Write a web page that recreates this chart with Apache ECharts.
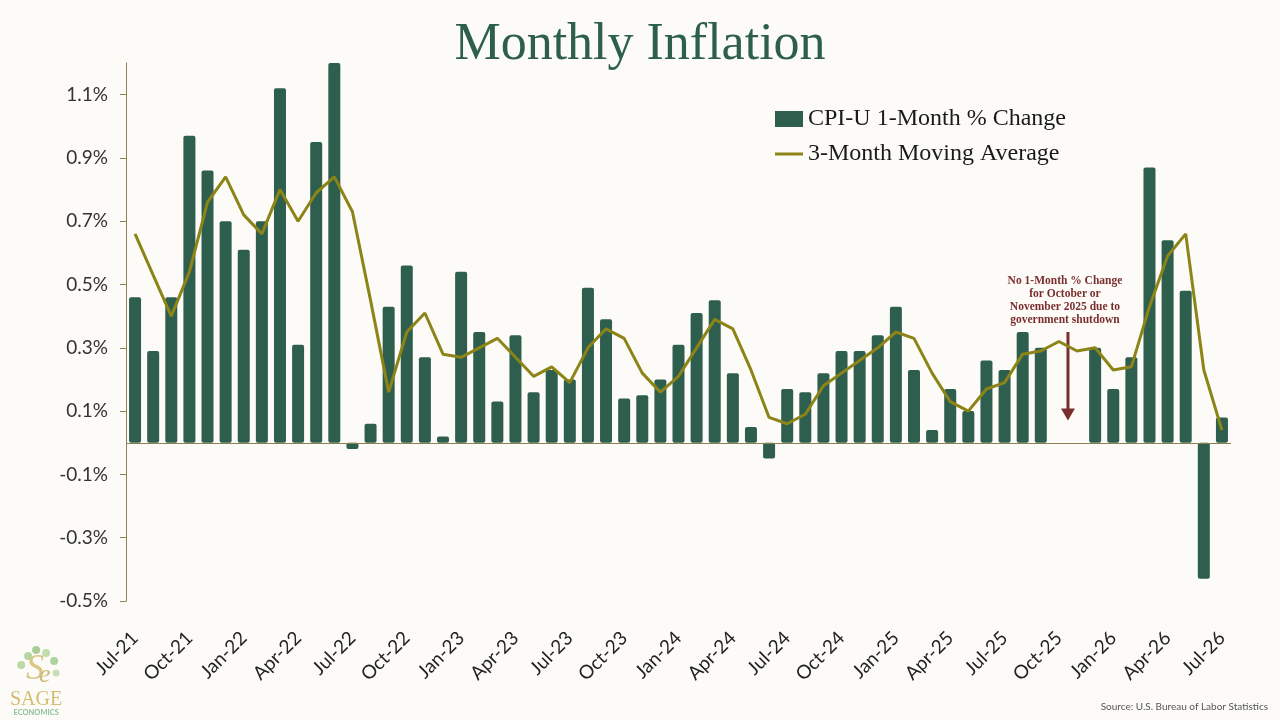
<!DOCTYPE html>
<html>
<head>
<meta charset="utf-8">
<title>Monthly Inflation</title>
<script src="https://cdn.jsdelivr.net/npm/echarts@6/dist/echarts.min.js"></script>
<style>
  html, body { margin: 0; padding: 0; background: #fcfbf7; }
  #chart { width: 1280px; height: 720px; }
</style>
</head>
<body>
<div id="chart"></div>
<script>
var months = [
    'Jul-21', 'Aug-21', 'Sep-21', 'Oct-21', 'Nov-21', 'Dec-21',
    'Jan-22', 'Feb-22', 'Mar-22', 'Apr-22', 'May-22', 'Jun-22',
    'Jul-22', 'Aug-22', 'Sep-22', 'Oct-22', 'Nov-22', 'Dec-22',
    'Jan-23', 'Feb-23', 'Mar-23', 'Apr-23', 'May-23', 'Jun-23',
    'Jul-23', 'Aug-23', 'Sep-23', 'Oct-23', 'Nov-23', 'Dec-23',
    'Jan-24', 'Feb-24', 'Mar-24', 'Apr-24', 'May-24', 'Jun-24',
    'Jul-24', 'Aug-24', 'Sep-24', 'Oct-24', 'Nov-24', 'Dec-24',
    'Jan-25', 'Feb-25', 'Mar-25', 'Apr-25', 'May-25', 'Jun-25',
    'Jul-25', 'Aug-25', 'Sep-25', 'Oct-25', 'Nov-25', 'Dec-25',
    'Jan-26', 'Feb-26', 'Mar-26', 'Apr-26', 'May-26', 'Jun-26',
    'Jul-26'
];

// CPI-U 1-month % change (Oct/Nov 2025 missing)
var cpiChange = [
    0.46, 0.29, 0.46, 0.97, 0.86, 0.70,
    0.61, 0.70, 1.12, 0.31, 0.95, 1.26,
    -0.02, 0.06, 0.43, 0.56, 0.27, 0.02,
    0.54, 0.35, 0.13, 0.34, 0.16, 0.23,
    0.20, 0.49, 0.39, 0.14, 0.15, 0.20,
    0.31, 0.41, 0.45, 0.22, 0.05, -0.05,
    0.17, 0.16, 0.22, 0.29, 0.29, 0.34,
    0.43, 0.23, 0.04, 0.17, 0.10, 0.26,
    0.23, 0.35, 0.30, null, null, 0.30,
    0.17, 0.27, 0.87, 0.64, 0.48, -0.43,
    0.08
];

// 3-month moving average
var movingAvg = [
    0.66, 0.53, 0.40, 0.54, 0.76, 0.84,
    0.72, 0.66, 0.80, 0.70, 0.79, 0.84,
    0.73, 0.45, 0.16, 0.35, 0.41, 0.28,
    0.27, 0.30, 0.33, 0.27, 0.21, 0.24,
    0.19, 0.30, 0.36, 0.33, 0.22, 0.16,
    0.21, 0.30, 0.39, 0.36, 0.23, 0.08,
    0.06, 0.09, 0.18, 0.22, 0.26, 0.30,
    0.35, 0.33, 0.22, 0.13, 0.10, 0.17,
    0.19, 0.28, 0.29, 0.32, 0.29, 0.30,
    0.23, 0.24, 0.43, 0.59, 0.66, 0.23,
    0.04
];

var yTicks = [-0.5, -0.3, -0.1, 0.1, 0.3, 0.5, 0.7, 0.9, 1.1];

var noteLines = ['No 1-Month % Change', 'for October or', 'November 2025 due to', 'government shutdown'];
var noteMonths = ['Oct-25', 'Nov-25'];
var noteArrow = [0.35, 0.07];   // arrow start / tip, in %
var noteTextAt = 0.45;          // middle of the note text, in %

var green = '#2e5e4e';
var olive = '#8c8416';
var axisColor = '#8d7f52';

var chart = echarts.init(document.getElementById('chart'));

var option = {
    backgroundColor: '#fcfbf7',
    animation: false,
    title: {
        text: 'Monthly Inflation',
        left: 'center',
        top: 14,
        textStyle: {
            fontFamily: 'Liberation Serif',
            fontSize: 52,
            fontWeight: 'normal',
            color: green
        }
    },
    legend: {
        orient: 'vertical',
        left: 770,
        top: 102,
        itemWidth: 28,
        itemHeight: 16,
        itemGap: 11,
        textStyle: {
            fontFamily: 'Liberation Serif',
            fontSize: 24,
            lineHeight: 24,
            color: '#1a1a1a'
        },
        data: [
            { name: 'CPI-U 1-Month % Change', icon: 'rect' },
            { name: '3-Month Moving Average', icon: 'path://M0,0L28,0L28,3L0,3Z' }
        ]
    },
    grid: {
        left: 126,
        right: 49,
        top: 63,
        bottom: 119,
        containLabel: false
    },
    xAxis: {
        type: 'category',
        data: months,
        axisLine: { show: false, onZero: false },
        axisTick: { show: false },
        axisLabel: {
            interval: 2,
            rotate: 45,
            margin: 34,
            fontFamily: 'Lato',
            fontSize: 19,
            color: '#222'
        }
    },
    yAxis: {
        type: 'value',
        min: -0.5,
        max: 1.2,
        interval: 0.2,
        splitLine: { show: false },
        axisLine: { show: true, lineStyle: { color: axisColor, width: 1 } },
        axisTick: {
            show: true,
            length: 6,
            customValues: yTicks,
            lineStyle: { color: axisColor }
        },
        axisLabel: {
            customValues: yTicks,
            margin: 18,
            fontFamily: 'Lato',
            fontSize: 19,
            color: '#333',
            formatter: function(v) {
                return v.toFixed(1) + '%';
            }
        }
    },
    series: [{
        name: 'CPI-U 1-Month % Change',
        type: 'bar',
        data: cpiChange,
        barWidth: 12,
        clip: true,
        itemStyle: { color: green, borderRadius: 2 },
        markLine: {
            silent: true,
            symbol: 'none',
            label: { show: false },
            lineStyle: { color: axisColor, width: 1, type: 'solid' },
            data: [{ yAxis: 0 }]
        }
    }, {
        name: '3-Month Moving Average',
        type: 'line',
        data: movingAvg,
        symbol: 'none',
        z: 5,
        lineStyle: { color: olive, width: 3 },
        itemStyle: { color: olive }
    }]
};

chart.setOption(option);

// note + arrow placed between the two missing months, through the chart's own scales
var noteX = (chart.convertToPixel({ xAxisIndex: 0 }, noteMonths[0]) +
    chart.convertToPixel({ xAxisIndex: 0 }, noteMonths[1])) / 2;
var arrowTop = chart.convertToPixel({ yAxisIndex: 0 }, noteArrow[0]);
var arrowTip = chart.convertToPixel({ yAxisIndex: 0 }, noteArrow[1]);
var textMid = chart.convertToPixel({ yAxisIndex: 0 }, noteTextAt);
var noteColor = '#7a2e2e';

chart.setOption({
    graphic: [{
        id: 'noteText',
        type: 'text',
        x: noteX - 3,
        y: textMid,
        style: {
            text: noteLines.join('\n'),
            font: 'bold 11.5px "Liberation Serif"',
            lineHeight: 13,
            fill: noteColor,
            align: 'center',
            verticalAlign: 'middle'
        }
    }, {
        id: 'noteLine',
        type: 'line',
        shape: { x1: noteX, y1: arrowTop, x2: noteX, y2: arrowTip - 10 },
        style: { stroke: noteColor, lineWidth: 3 }
    }, {
        id: 'noteHead',
        type: 'polygon',
        shape: { points: [[noteX - 7, arrowTip - 12], [noteX + 7, arrowTip - 12], [noteX, arrowTip]] },
        style: { fill: noteColor }
    }, {
        id: 'source',
        type: 'text',
        right: 12,
        bottom: 8,
        style: {
            text: 'Source: U.S. Bureau of Labor Statistics',
            font: '10px Lato',
            fill: '#555'
        }
    }, {
        id: 'logo',
        type: 'group',
        left: 10,
        top: 646,
        children: [
            { type: 'circle', shape: { cx: 22, cy: 8, r: 4 }, style: { fill: '#b7d6a6' } },
            { type: 'circle', shape: { cx: 30, cy: 2, r: 4 }, style: { fill: '#a9cd98' } },
            { type: 'circle', shape: { cx: 40, cy: 5, r: 4 }, style: { fill: '#c2dcb0' } },
            { type: 'circle', shape: { cx: 48, cy: 13, r: 4 }, style: { fill: '#b0d3a0' } },
            { type: 'circle', shape: { cx: 15, cy: 17, r: 4 }, style: { fill: '#bcd9ab' } },
            { type: 'circle', shape: { cx: 50, cy: 25, r: 3.5 }, style: { fill: '#c6dfb6' } },
            {
                type: 'text', x: 20, y: 4,
                style: { text: 'S', font: 'italic 36px "Liberation Serif"', fill: '#d8c684' }
            },
            {
                type: 'text', x: 33, y: 14,
                style: { text: 'e', font: 'italic 26px "Liberation Serif"', fill: '#cdbb78' }
            },
            {
                type: 'text', x: 30, y: 42,
                style: { text: 'SAGE', font: '20px "Liberation Serif"', fill: '#d2bd72', align: 'center' }
            },
            {
                type: 'text', x: 30, y: 61,
                style: { text: 'ECONOMICS', font: 'bold 7.5px Lato', fill: '#8fbf96', align: 'center' }
            }
        ]
    }]
});
</script>
</body>
</html>
